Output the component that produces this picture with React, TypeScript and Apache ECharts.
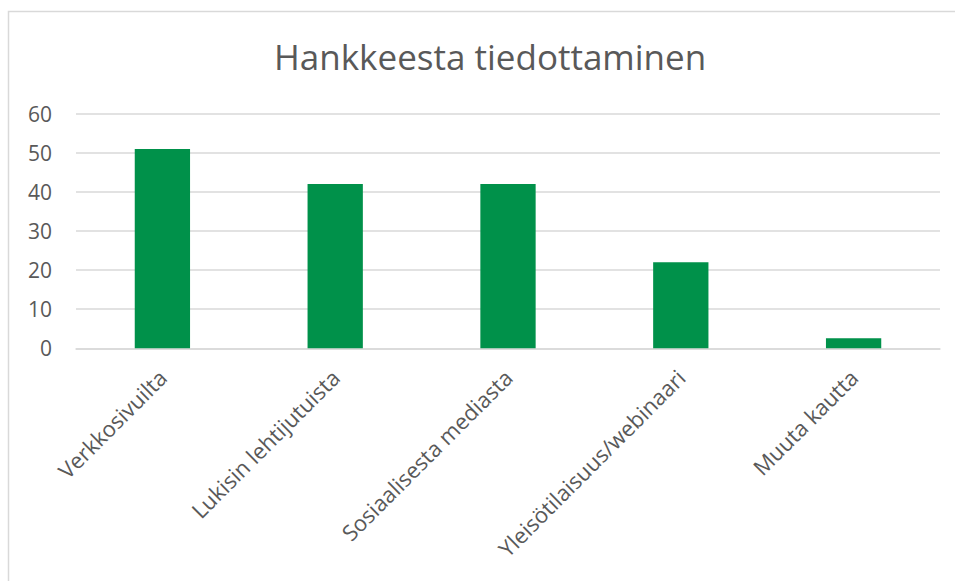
import React, { useEffect, useRef } from "react";
import * as echarts from "echarts";

const title = "Hankkeesta tiedottaminen";
const categories = [
  "Verkkosivuilta",
  "Lukisin lehtijutuista",
  "Sosiaalisesta mediasta",
  "Yleisötilaisuus/webinaari",
  "Muuta kautta",
];
const values = [51, 42, 42, 22, 2.6];
const yTicks = { min: 0, max: 60, interval: 10 };

const FONT = "'Open Sans', 'Noto Sans', sans-serif";
const TEXT = "#595959";
const GRID = "#d9d9d9";
const BAR = "#00914a";

export default function App() {
  const ref = useRef<HTMLDivElement>(null);
  useEffect(() => {
    if (!ref.current) return;
    const chart = echarts.init(ref.current, undefined, { renderer: "svg" });
    chart.setOption({
      animation: false,
      backgroundColor: "#ffffff",
      title: {
        text: title,
        left: 269,
        top: 34,
        textStyle: { fontFamily: FONT, fontSize: 35, fontWeight: "normal", color: TEXT },
      },
      graphic: [
        {
          type: "rect",
          shape: { x: 8.5, y: 11.5, width: 1000, height: 700 },
          style: { fill: "none", stroke: GRID, lineWidth: 1.5 },
          silent: true,
        },
      ],
      grid: { left: 76, right: 15, top: 113.7, bottom: 232.7 },
      xAxis: {
        type: "category",
        data: categories,
        axisLine: { lineStyle: { color: GRID, width: 1.5 } },
        axisTick: { show: false },
        axisLabel: {
          rotate: 45,
          interval: 0,
          margin: 25,
          fontFamily: FONT,
          fontSize: 22,
          color: TEXT,
        },
      },
      yAxis: {
        type: "value",
        min: yTicks.min,
        max: yTicks.max,
        interval: yTicks.interval,
        axisLine: { show: false },
        axisTick: { show: false },
        splitLine: { lineStyle: { color: GRID, width: 1.5 } },
        axisLabel: { fontFamily: FONT, fontSize: 21, color: TEXT, margin: 24 },
      },
      series: [
        {
          type: "bar",
          data: values,
          barWidth: "32%",
          itemStyle: { color: BAR },
        },
      ],
    });
    return () => chart.dispose();
  }, []);
  return (
    <div
      ref={ref}
      style={{ position: "fixed", left: 0, top: 0, width: 955, height: 581 }}
    />
  );
}
